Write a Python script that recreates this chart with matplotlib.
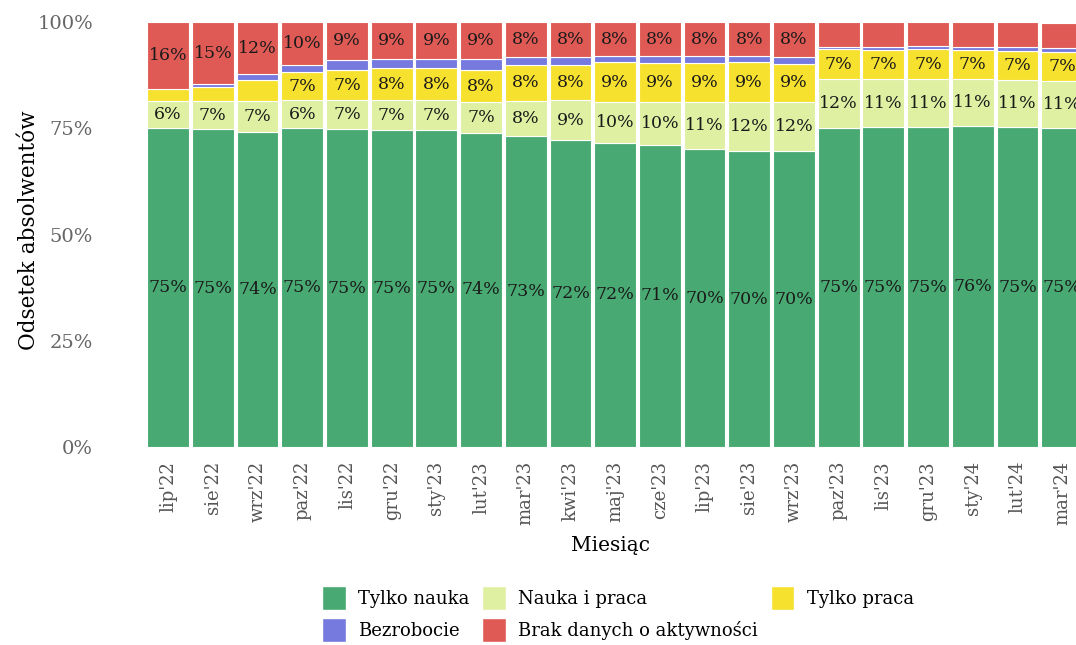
import matplotlib
matplotlib.use("Agg")
import matplotlib.pyplot as plt
import numpy as np
from matplotlib.patches import Patch

months = ["lip'22", "sie'22", "wrz'22", "paz'22", "lis'22", "gru'22", "sty'23",
          "lut'23", "mar'23", "kwi'23", "maj'23", "cze'23", "lip'23", "sie'23",
          "wrz'23", "paz'23", "lis'23", "gru'23", "sty'24", "lut'24", "mar'24"]

# shares in %
tylko_nauka = [75.1, 74.8, 74.2, 75.1, 74.8, 74.6, 74.6, 73.9, 73.2, 72.2, 71.6,
               71.1, 70.1, 69.6, 69.6, 75.0, 75.2, 75.2, 75.6, 75.2, 75.0]
nauka_praca = [6.3, 6.6, 7.3, 6.5, 6.8, 7.0, 7.0, 7.2, 8.2, 9.4, 9.6,
               10.1, 11.0, 11.6, 11.5, 11.6, 11.3, 11.3, 11.0, 11.2, 11.2]
tylko_praca = [2.8, 3.2, 4.9, 6.6, 7.1, 7.5, 7.6, 7.6, 8.5, 8.4, 9.3,
               9.2, 9.3, 9.3, 9.1, 7.0, 7.0, 7.1, 6.8, 6.8, 6.8]
bezrobocie = [0.0, 0.8, 1.3, 1.7, 2.4, 2.1, 2.0, 2.5, 1.9, 1.8, 1.5,
              1.5, 1.5, 1.5, 1.5, 0.6, 0.7, 0.7, 0.8, 1.0, 1.0]
brak_danych = [15.8, 14.6, 12.3, 10.1, 8.9, 8.8, 8.8, 8.8, 8.2, 8.2, 8.0,
               8.1, 8.1, 8.0, 8.3, 5.8, 5.8, 5.7, 5.8, 5.8, 5.8]

series = [
    ("Tylko nauka", tylko_nauka, "#48aa72"),
    ("Nauka i praca", nauka_praca, "#dff0a2"),
    ("Tylko praca", tylko_praca, "#f7e12f"),
    ("Bezrobocie", bezrobocie, "#7679dd"),
    ("Brak danych o aktywności", brak_danych, "#e05a55"),
]

plt.rcParams["font.family"] = ["DejaVu Serif"]

fig = plt.figure(figsize=(10.76, 6.45), dpi=100)
ax = fig.add_axes([145.8 / 1076, 1 - 447 / 645, 1 - 145.8 / 1076, 425 / 645])

x = np.arange(len(months))
bottom = np.zeros(len(months))
for name, vals, col in series:
    v = np.array(vals)
    ax.bar(x, v, 0.935, bottom=bottom, color=col, edgecolor="white",
           linewidth=0.8, label=name)
    for xi, b, h in zip(x, bottom, v):
        if h >= 6:
            ax.text(xi, b + h / 2, f"{round(h):.0f}%", ha="center", va="center",
                    fontsize=12.5, color="#1a1a1a")
    bottom += v

ax.set_xlim(-0.5, 20.31)
ax.set_ylim(0, 100)
ax.set_yticks([0, 25, 50, 75, 100])
ax.set_yticklabels(["0%", "25%", "50%", "75%", "100%"], fontsize=14, color="#666666")
ax.set_xticks(x)
ax.set_xticklabels(months, rotation=90, fontsize=13, color="#555555")
ax.tick_params(length=0)
ax.tick_params(axis="y", pad=38)
ax.tick_params(axis="x", pad=10)
for s in ax.spines.values():
    s.set_visible(False)

ax.set_ylabel("Odsetek absolwentów", fontsize=15.5)
ax.yaxis.set_label_coords(-0.114, 0.51)
ax.set_xlabel("Miesiąc", fontsize=14.5, labelpad=8)

handles = [Patch(facecolor=c, edgecolor="white") for _, _, c in series]
labels = [n for n, _, _ in series]
order = [0, 3, 1, 4, 2]
fig.legend([handles[i] for i in order], [labels[i] for i in order],
           loc="center", bbox_to_anchor=(618 / 1076, 1 - 614 / 645), ncol=3,
           frameon=False, fontsize=13, handlelength=1.3, handleheight=1.7,
           columnspacing=0.7, handletextpad=0.7, labelspacing=0.45)

fig.savefig("out.png", dpi=100)
